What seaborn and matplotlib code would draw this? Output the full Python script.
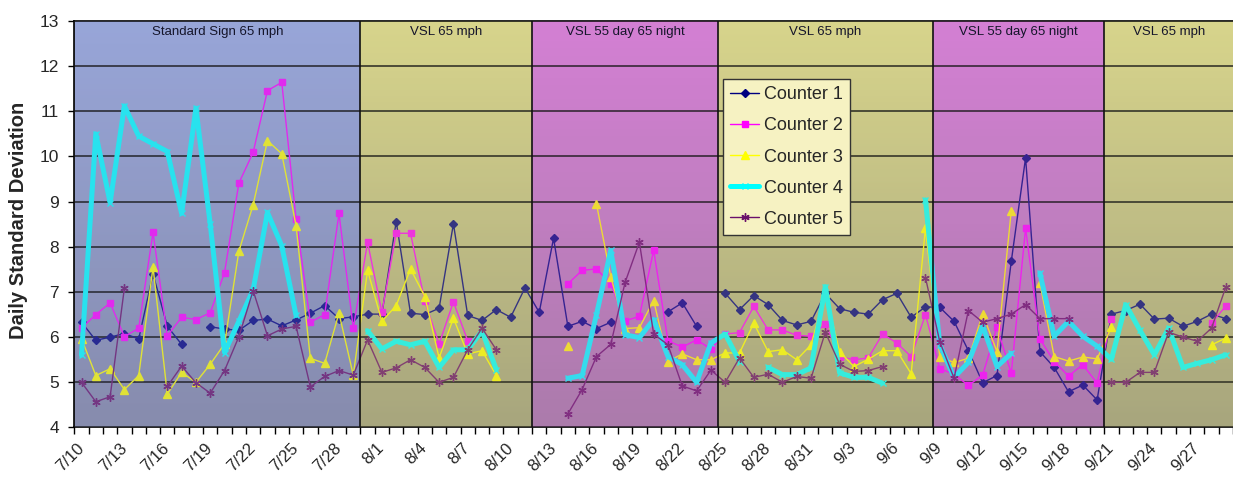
import numpy as np
import pandas as pd
import matplotlib
matplotlib.use("Agg")
import matplotlib.pyplot as plt
import seaborn as sns
from matplotlib.lines import Line2D
from matplotlib.colors import LinearSegmentedColormap, to_rgb
from matplotlib.transforms import ScaledTranslation

nan = np.nan

# ---------------- data ----------------
dates = ([f"7/{d}" for d in range(10, 30)] + ["7/31"]
         + [f"8/{d}" for d in range(1, 32)] + [f"9/{d}" for d in range(1, 30)])

counter1 = [6.33, 5.93, 6.00, 6.08, 5.96, 7.40, 6.24, 5.84, nan, 6.23,
            6.18, 6.15, 6.37, 6.40, 6.25, 6.38, 6.53, 6.70, 6.41, 6.45,
            6.51, 6.51, 8.56, 6.53, 6.50, 6.64, 8.51, 6.48, 6.37, 6.61,
            6.44, 7.09, 6.55, 8.19, 6.24, 6.35, 6.19, 6.33, nan, nan,
            nan, 6.56, 6.76, 6.24, nan, 6.97, 6.61, 6.92, 6.72, 6.37,
            6.27, 6.35, 6.97, 6.63, 6.55, 6.51, 6.83, 6.97, 6.44, 6.67,
            6.66, 6.35, 5.70, 4.99, 5.15, 7.68, 9.97, 5.68, 5.33, 4.79,
            4.94, 4.61, 6.51, 6.59, 6.73, 6.40, 6.42, 6.24, 6.35, 6.51,
            6.41]
counter2 = [6.20, 6.50, 6.76, 6.01, 6.20, 8.32, 6.03, 6.44, 6.39, 6.54,
            7.43, 9.41, 10.09, 11.46, 11.64, 8.62, 6.33, 6.50, 8.74, 6.20,
            8.10, 6.55, 8.30, 8.30, 6.79, 5.85, 6.78, 5.92, nan, nan,
            nan, nan, nan, nan, 7.18, 7.48, 7.51, 7.18, 6.36, 6.46,
            7.92, 5.92, 5.78, 5.94, 5.74, 6.07, 6.10, 6.68, 6.16, 6.16,
            6.04, 6.02, 6.29, 5.57, 5.50, 5.54, 6.07, 5.87, 5.57, 6.50,
            5.30, 5.18, 4.93, 5.16, 6.22, 5.20, 8.41, 5.96, 5.46, 5.14,
            5.39, 4.98, 6.40, nan, nan, nan, nan, nan, nan, 6.31,
            6.69]
counter3 = [5.97, 5.15, 5.30, 4.84, 5.15, 7.55, 4.74, 5.22, 5.00, 5.40,
            5.85, 7.90, 8.93, 10.35, 10.06, 8.47, 5.53, 5.42, 6.53, 5.16,
            7.48, 6.35, 6.70, 7.51, 6.90, 5.54, 6.42, 5.63, 5.70, 5.15,
            nan, nan, nan, nan, 5.80, nan, 8.95, 7.34, 6.19, 6.21,
            6.81, 5.46, 5.63, 5.50, 5.50, 5.65, 5.65, 6.31, 5.68, 5.72,
            5.50, 5.83, 6.97, 5.68, 5.35, 5.51, 5.70, 5.70, 5.19, 8.41,
            5.56, 5.44, 5.53, 6.51, 5.68, 8.80, nan, 7.20, 5.57, 5.47,
            5.56, 5.52, 6.22, nan, nan, nan, nan, nan, nan, 5.83,
            5.98]
counter4 = [5.60, 10.50, 8.98, 11.12, 10.45, 10.28, 10.11, 8.74, 11.07, 8.50,
            5.66, 6.35, 7.05, 8.76, 8.02, 6.48, nan, nan, nan, nan,
            6.14, 5.74, 5.91, 5.83, 5.91, 5.33, 5.72, 5.72, 6.14, 5.28,
            nan, nan, nan, nan, 5.09, 5.15, 6.50, 7.92, 6.05, 5.99,
            6.39, 5.57, 5.39, 5.00, 5.87, 6.07, 5.46, nan, 5.33, 5.17,
            5.17, 5.32, 7.12, 5.21, 5.11, 5.11, 4.98, nan, nan, 9.04,
            5.83, 5.11, 5.44, 6.25, 5.35, 5.64, nan, 7.42, 6.02, 6.35,
            6.02, 5.80, 5.51, 6.72, 6.15, 5.61, 6.20, 5.33, 5.42, 5.50,
            5.61]
counter5 = [5.00, 4.57, 4.68, 7.09, nan, nan, 4.91, 5.36, 4.99, 4.76,
            5.26, 6.01, 7.03, 6.03, 6.18, 6.24, 4.90, 5.13, 5.26, 5.16,
            5.94, 5.22, 5.32, 5.50, 5.33, 5.00, 5.11, 5.72, 6.20, 5.72,
            nan, nan, nan, nan, 4.30, 4.84, 5.57, 5.84, 7.21, 8.10,
            6.07, 5.83, 4.92, 4.81, 5.27, 5.00, 5.54, 5.11, 5.18, 5.00,
            5.13, 5.09, 6.11, 5.40, 5.24, 5.26, 5.35, nan, nan, 7.32,
            5.90, 5.09, 6.59, 6.33, 6.41, 6.51, 6.72, 6.41, 6.41, 6.41,
            nan, nan, 5.00, 5.00, 5.22, 5.22, 6.11, 6.00, 5.91, 6.20,
            7.11]

series_names = ["Counter 1", "Counter 2", "Counter 3", "Counter 4", "Counter 5"]
series_values = [counter1, counter2, counter3, counter4, counter5]

# treatment periods: (first day, last day, label, kind)
periods = [("7/10", "7/29", "Standard Sign 65 mph", "std"),
           ("7/31", "8/11", "VSL 65 mph", "vsl65"),
           ("8/12", "8/24", "VSL 55 day 65 night", "vsl55"),
           ("8/25", "9/8", "VSL 65 mph", "vsl65"),
           ("9/9", "9/20", "VSL 55 day 65 night", "vsl55"),
           ("9/21", "9/29", "VSL 65 mph", "vsl65")]

# ---------------- styles ----------------
region_colors = {  # (top, bottom)
    "std": ("#98A6D9", "#878CAE"),
    "vsl65": ("#D8D58C", "#A8A67E"),
    "vsl55": ("#D480D4", "#AC7CAC"),
}
styles = {
    "Counter 1": dict(color="#000080", marker="D", ms=4.5, lw=1.0),
    "Counter 2": dict(color="#FF00FF", marker="s", ms=5, lw=1.0),
    "Counter 3": dict(color="#FFFF00", marker="^", ms=5.5, lw=1.0),
    "Counter 4": dict(color="#00FFFF", marker="x", ms=4, lw=3.6),
    "Counter 5": dict(color="#6A106A", marker=(6, 2, 0), ms=6, lw=1.0),
}
OV_ALPHA = 0.28

sns.set_theme(style="ticks")
plt.rcParams["font.family"] = ["Liberation Sans", "DejaVu Sans"]

fig = plt.figure(figsize=(12.33, 4.95), dpi=100)
ax = fig.add_axes([0.0603, 0.1364, 0.9397, 0.8212])

idx = np.arange(len(dates))
pos = {d: i for i, d in enumerate(dates)}

for start, end, label, kind in periods:
    x0, x1 = pos[start] - 0.5, pos[end] + 0.5
    top, bot = np.array(to_rgb(region_colors[kind][0])), np.array(to_rgb(region_colors[kind][1]))
    ov = (top + bot) / 2
    btop = np.clip((top - OV_ALPHA * ov) / (1 - OV_ALPHA), 0, 1)
    bbot = np.clip((bot - OV_ALPHA * ov) / (1 - OV_ALPHA), 0, 1)
    cmap = LinearSegmentedColormap.from_list(kind, [bbot, btop])
    grad = np.linspace(0, 1, 256).reshape(-1, 1)
    ax.imshow(grad, extent=(x0, x1, 4, 13), origin="lower", aspect="auto",
              cmap=cmap, zorder=0, interpolation="bilinear")
    ax.axvspan(x0, x1, color=ov, alpha=OV_ALPHA, lw=0, zorder=3)
    ax.axvline(x0, color="#111111", lw=1.2, zorder=4)
    ax.text((x0 + x1) / 2, 12.76, label, ha="center", va="center",
            fontsize=9.5, color="#15152a", zorder=6)

for yv in range(5, 14):
    ax.axhline(yv, color="#111111", lw=1.3, zorder=1)

for name, vals in zip(series_names, series_values):
    v = np.array(vals, dtype=float)
    seg = np.cumsum(np.isnan(v))
    df = pd.DataFrame({"idx": idx, "value": v, "seg": seg}).dropna()
    st = styles[name]
    sns.lineplot(data=df, x="idx", y="value", units="seg", estimator=None,
                 color=st["color"], marker=st["marker"], markersize=st["ms"],
                 markeredgecolor=st["color"], markeredgewidth=1.0,
                 linewidth=st["lw"], ax=ax, zorder=2, legend=False)

ax.set_xlim(-0.5, 80.31)
ax.set_ylim(4, 13)
ax.set_xlabel("")
ax.set_ylabel("Daily Standard Deviation", fontsize=14.5, fontweight="bold")
ax.yaxis.set_label_coords(-0.040, 0.51)

ax.set_yticks(range(4, 14))
ax.set_yticklabels([str(v) for v in range(4, 14)], fontsize=12.5)
ax.set_xticks(idx[::3])
ax.set_xticklabels(dates[::3], rotation=45, ha="right", va="center",
                   rotation_mode="anchor", fontsize=12)
off = ScaledTranslation(-6 / 100, 0, fig.dpi_scale_trans)
for lab in ax.get_xticklabels():
    lab.set_transform(lab.get_transform() + off)
ax.set_xticks(np.arange(-0.5, len(dates), 1), minor=True)
ax.tick_params(axis="x", which="major", length=0, pad=13)
ax.tick_params(axis="x", which="minor", length=5, width=1, color="black", direction="out")
ax.tick_params(axis="y", length=4, width=1, color="black", direction="out", pad=7)
for s in ["left", "bottom", "top"]:
    ax.spines[s].set_color("black")
    ax.spines[s].set_linewidth(1.2)
ax.spines["right"].set_visible(False)

handles = [Line2D([], [], color=styles[n]["color"], marker=styles[n]["marker"],
                  ms=styles[n]["ms"], lw=styles[n]["lw"],
                  markeredgecolor=styles[n]["color"]) for n in series_names]
leg = ax.legend(handles, series_names, loc="upper left", bbox_to_anchor=(0.560, 0.857),
                borderaxespad=0, fontsize=13, frameon=True, facecolor="#F6F2C2",
                edgecolor="#333333", framealpha=1, fancybox=False, handlelength=1.6,
                handletextpad=0.25, labelspacing=0.78, borderpad=0.4)
leg.set_zorder(10)
leg.get_frame().set_linewidth(1.0)

fig.savefig("out.png", dpi=100)
